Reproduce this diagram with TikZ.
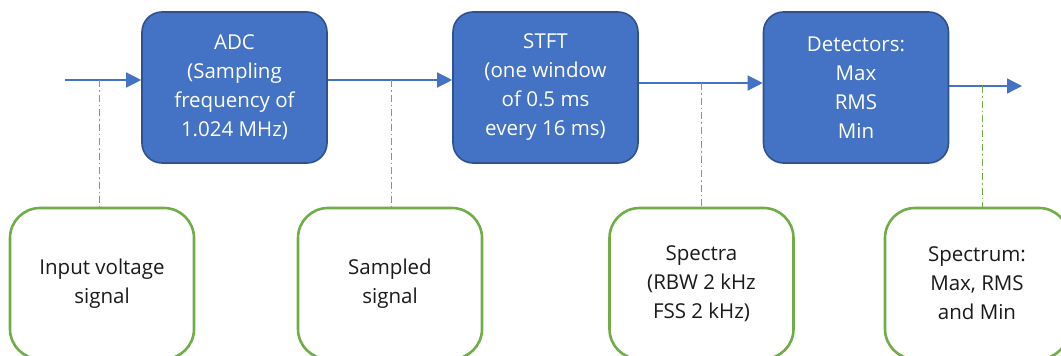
\documentclass[tikz,border=0pt]{standalone}
\usepackage{fontspec}
\setmainfont{Open Sans}
\usetikzlibrary{arrows.meta}
\definecolor{stageblue}{HTML}{4472C4}
\definecolor{stageedge}{HTML}{2F528F}
\definecolor{notegreen}{HTML}{70AD47}
\definecolor{notetext}{HTML}{1A1A1A}
\begin{document}
\begin{tikzpicture}[x=1pt,y=-1pt,
  txt/.style={font=\fontsize{20.5}{29}\selectfont, align=center, inner sep=0pt},
  stage/.style={txt, draw=stageedge, line width=1.6pt, fill=stageblue,
    rounded corners=20pt, minimum width=185pt, minimum height=151pt, text=white},
  note/.style={txt, draw=notegreen, line width=2.6pt, fill=white,
    rounded corners=30pt, minimum width=184pt, minimum height=151pt, text=notetext},
  flow/.style={draw=stageblue, line width=1.3pt, -{Triangle[length=15pt,width=15pt]}},
  tap/.style={draw=notegreen, line width=1pt, dash pattern=on 7pt off 3pt on 1.5pt off 3pt}]
\useasboundingbox (0,0) rectangle (1061,356);

% processing stages
\node[stage] (adc)  at (234.5,87.5) {ADC\\(Sampling\\frequency of\\1.024 MHz)};
\node[stage] (stft) at (545.5,87.5) {STFT\\(one window\\of 0.5 ms\\every 16 ms)};
\node[stage] (det)  at (856,87.5)   {Detectors:\\Max\\RMS\\Min};

% signal descriptions
\node[note] (g1) at (102,283.5)   {Input voltage\\signal};
\node[note] (g2) at (390,283.5)   {Sampled\\signal};
\node[note] (g3) at (701.5,283.5) {Spectra\\(RBW 2 kHz\\FSS 2 kHz)};
\node[note] (g4) at (977,283.5)   {Spectrum:\\Max, RMS\\and Min};

% points on the signal path
\coordinate (src) at (65,80);
\coordinate (t1) at (99,80);
\coordinate (t2) at (391,80);
\coordinate (t3) at (701,83);
\coordinate (t4) at (982,86);
\coordinate (out) at (1022,86);

% signal path
\draw[flow] (src) -- (src -| adc.west);
\draw[flow] (adc.east |- t2) -- (stft.west |- t2);
\draw[flow] (stft.east |- t3) -- (det.west |- t3);
\draw[flow] (det.east |- t4) -- (out);

% taps to the descriptions
\draw[tap] (t1) -- (t1 |- g1.north);
\draw[tap] (t2) -- (t2 |- g2.north);
\draw[tap] (t3) -- (t3 |- g3.north);
\draw[tap] (t4) -- (t4 |- g4.north);
\end{tikzpicture}
\end{document}
